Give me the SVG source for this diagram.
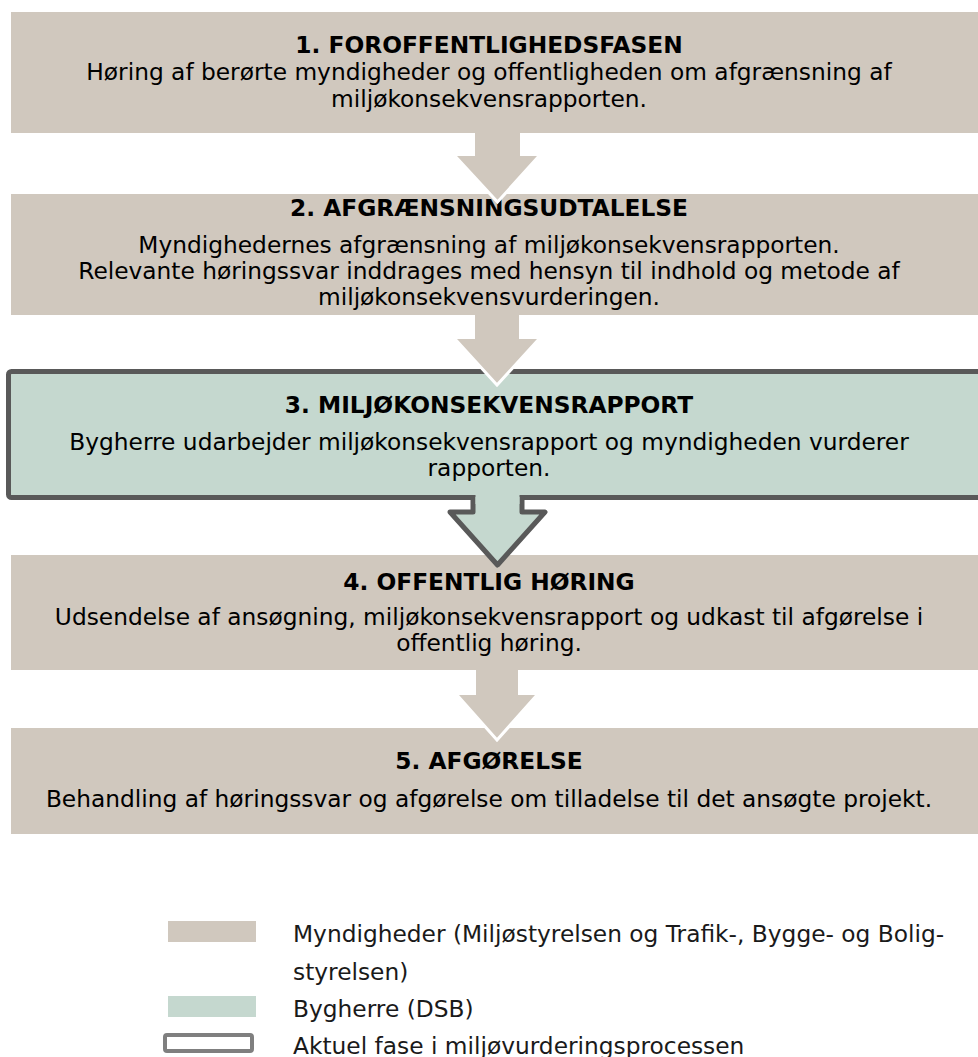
<svg xmlns="http://www.w3.org/2000/svg" width="978" height="1057" viewBox="0 0 978 1057">
<style>
.mynd{fill:#D0C8BE}
.byg{fill:#C5D8CF}
.t{font-family:"DejaVu Sans",Verdana,sans-serif;font-size:23.3px;fill:#000;text-anchor:middle}
.b{font-weight:bold}
.lg{font-family:"DejaVu Sans",Verdana,sans-serif;font-size:23.3px;fill:#1a1a1a}
</style>
<rect width="978" height="1057" fill="#fff"/>
<g id="node1">
<rect class="mynd" x="11" y="12" width="972" height="121"/>
<text class="t b" x="489" y="53">1. FOROFFENTLIGHEDSFASEN</text>
<text class="t" x="489" y="80">Høring af berørte myndigheder og offentligheden om afgrænsning af</text>
<text class="t" x="489" y="107">miljøkonsekvensrapporten.</text>
</g>
<g id="node2">
<rect class="mynd" x="11" y="194" width="972" height="121"/>
<text class="t b" x="489" y="216">2. AFGRÆNSNINGSUDTALELSE</text>
<text class="t" x="489" y="253">Myndighedernes afgrænsning af miljøkonsekvensrapporten.</text>
<text class="t" x="489" y="279">Relevante høringssvar inddrages med hensyn til indhold og metode af</text>
<text class="t" x="489" y="305">miljøkonsekvensvurderingen.</text>
</g>
<g id="node4">
<rect class="mynd" x="11" y="555" width="972" height="115"/>
<text class="t b" x="489" y="590">4. OFFENTLIG HØRING</text>
<text class="t" x="489" y="625">Udsendelse af ansøgning, miljøkonsekvensrapport og udkast til afgørelse i</text>
<text class="t" x="489" y="651">offentlig høring.</text>
</g>
<g id="node5">
<rect class="mynd" x="11" y="728" width="972" height="106"/>
<text class="t b" x="489" y="769">5. AFGØRELSE</text>
<text class="t" x="489" y="807">Behandling af høringssvar og afgørelse om tilladelse til det ansøgte projekt.</text>
</g>
<g id="node3">
<rect class="byg" x="8.5" y="371.5" width="980" height="126" rx="3" stroke="#595959" stroke-width="5"/>
<text class="t b" x="489" y="413">3. MILJØKONSEKVENSRAPPORT</text>
<text class="t" x="489" y="450">Bygherre udarbejder miljøkonsekvensrapport og myndigheden vurderer</text>
<text class="t" x="489" y="476">rapporten.</text>
</g>
<g id="connectors">
<polygon class="mynd" points="475,132 520,132 520,156 539,156 497.5,202 455,156 475,156"/>
<polyline points="455,156 497.5,202 539,156" fill="none" stroke="#fff" stroke-width="3"/>
<polygon class="mynd" points="475,314 519,314 519,339 539,339 497,385 455,339 475,339"/>
<polyline points="455,339 497,385 539,339" fill="none" stroke="#fff" stroke-width="3"/>
<path class="byg" d="M473,497 L473,512 L450,512 L497.5,565 L545,512 L522,512 L522,497" stroke="#595959" stroke-width="5" stroke-linejoin="round"/>
<rect class="byg" x="475.5" y="490" width="44" height="14"/>
<polygon class="mynd" points="476,669 518,669 518,695 537,695 497,740 457,695 476,695"/>
<polyline points="457,695 497,740 537,695" fill="none" stroke="#fff" stroke-width="3"/>
</g>
<g id="legend">
<rect class="mynd" x="168" y="921" width="88" height="21"/>
<rect class="byg" x="168" y="996" width="88" height="21"/>
<rect x="165" y="1035" width="87" height="16" rx="2" fill="#fff" stroke="#7f7f7f" stroke-width="4"/>
<text class="lg" x="293" y="942">Myndigheder (Miljøstyrelsen og Trafik-, Bygge- og Bolig-</text>
<text class="lg" x="293" y="980">styrelsen)</text>
<text class="lg" x="293" y="1017">Bygherre (DSB)</text>
<text class="lg" x="293" y="1054">Aktuel fase i miljøvurderingsprocessen</text>
</g>
</svg>
